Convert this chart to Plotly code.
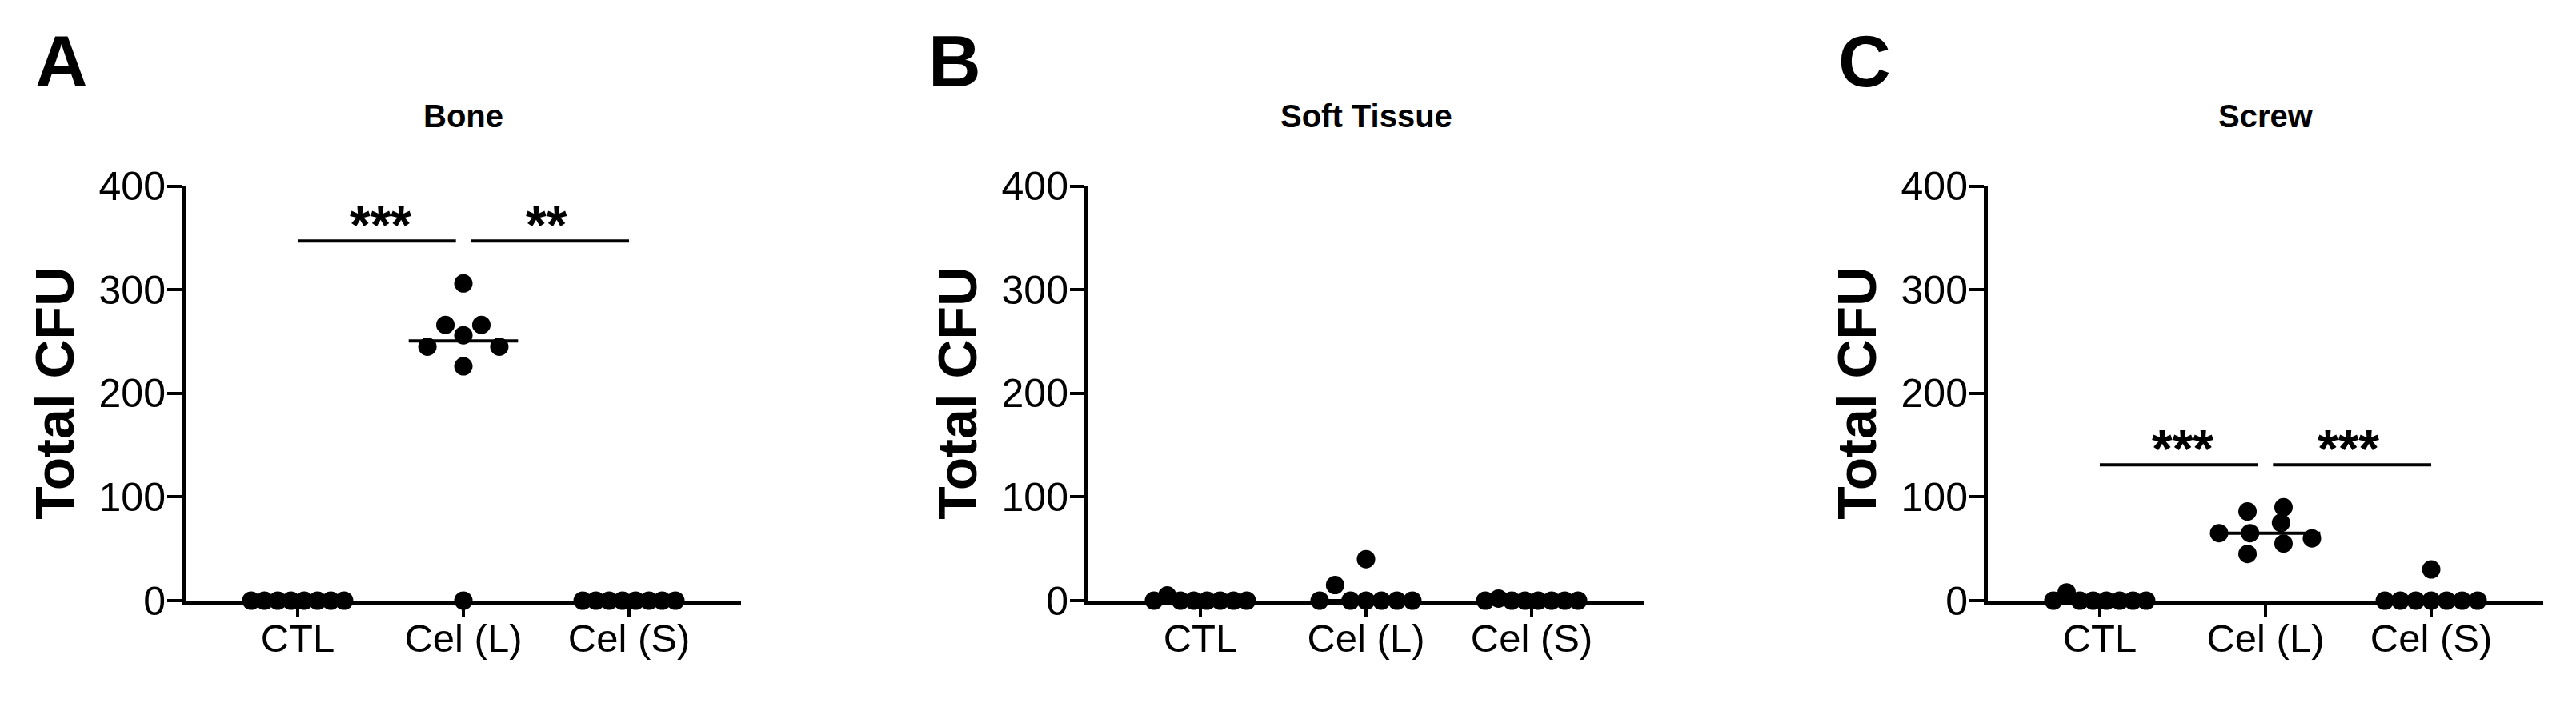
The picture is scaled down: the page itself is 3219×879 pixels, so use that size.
import statistics

import plotly.graph_objects as go

CATEGORIES = ["CTL", "Cel (L)", "Cel (S)"]
PANEL_TITLES = ["Bone", "Soft Tissue", "Screw"]
PANEL_LETTERS = ["A", "B", "C"]
Y_TICKS = [0, 100, 200, 300, 400]

BONE_CTL = [0, 0, 0, 0, 0, 0, 0, 0]
BONE_CEL_L = [306, 266, 245, 256, 245, 266, 226, 0]
BONE_CEL_S = [0, 0, 0, 0, 0, 0, 0, 0]

SOFT_CTL = [0, 5, 0, 0, 0, 0, 0, 0]
SOFT_CEL_L = [0, 15, 0, 40, 0, 0, 0, 0]
SOFT_CEL_S = [0, 2, 0, 0, 0, 0, 0, 0]

SCREW_CTL = [0, 8, 0, 0, 0, 0, 0, 0]
SCREW_CEL_L = [86, 65, 45, 65, 75, 55, 90, 60]
SCREW_CEL_S = [0, 0, 0, 30, 0, 0, 0, 0]

# (group a, group b, label) and the CFU level of the bar
BONE_SIG = [(0, 1, "***"), (1, 2, "**")]
BONE_SIG_LEVEL = 347
SCREW_SIG = [(0, 1, "***"), (1, 2, "***")]
SCREW_SIG_LEVEL = 131

PANELS = [
    [BONE_CTL, BONE_CEL_L, BONE_CEL_S],
    [SOFT_CTL, SOFT_CEL_L, SOFT_CEL_S],
    [SCREW_CTL, SCREW_CEL_L, SCREW_CEL_S],
]
SIGNIFICANCE = [(BONE_SIG, BONE_SIG_LEVEL), ([], 0), (SCREW_SIG, SCREW_SIG_LEVEL)]

# the html page keeps the browser's 8px body margin, so the figure is
# made 8px smaller and every page position is taken relative to it
PAGE_W, PAGE_H, BODY = 3219, 879, 8
W, H = PAGE_W - BODY, PAGE_H - BODY
FONT = "Arial, Liberation Sans, sans-serif"
AXIS_LEFT = [232, 1360, 2484]
LETTER_LEFT = [42, 1158, 2295]
AXIS_LEN = 694
Y_BOTTOM, Y_TOP = 751, 232.5
X_RANGE = [-0.676, 2.676]


def px(x):
    return (x - BODY) / W


def py(y):
    return 1 - (y - BODY) / H


def spread(values, bin_size=20, step=0.217, max_width=0.56):
    # prism-like layout: points in the same value bin sit side by side
    rows = {}
    for i, v in enumerate(values):
        rows.setdefault(int(v // bin_size), []).append(i)
    offsets = [0.0] * len(values)
    for idx in rows.values():
        n = len(idx)
        if n < 2:
            continue
        gap = min(step, max_width / (n - 1))
        for k, i in enumerate(idx):
            offsets[i] = (k - (n - 1) / 2) * gap
    return offsets


fig = go.Figure()
layout = dict(
    width=W,
    height=H,
    autosize=False,
    margin=dict(l=0, r=0, t=0, b=0, pad=0, autoexpand=False),
    plot_bgcolor="white",
    paper_bgcolor="white",
    showlegend=False,
    font=dict(family=FONT, color="black"),
)
shapes = []
annotations = []

for p, groups in enumerate(PANELS):
    suffix = "" if p == 0 else str(p + 1)
    xref, yref = "x" + suffix, "y" + suffix
    left = AXIS_LEFT[p]

    layout["xaxis" + suffix] = dict(
        domain=[px(left), px(left + AXIS_LEN)],
        range=X_RANGE,
        anchor=yref,
        automargin=False,
        showline=True,
        linewidth=5,
        linecolor="black",
        ticks="outside",
        ticklen=16,
        tickwidth=4,
        tickcolor="black",
        tickvals=[0, 1, 2],
        ticktext=CATEGORIES,
        ticklabelstandoff=-16,
        tickfont=dict(size=49, family=FONT, color="black"),
        showgrid=False,
        zeroline=False,
    )
    layout["yaxis" + suffix] = dict(
        domain=[py(Y_BOTTOM), py(Y_TOP)],
        range=[0, 400],
        anchor=xref,
        automargin=False,
        showline=True,
        linewidth=5,
        linecolor="black",
        ticks="outside",
        ticklen=18,
        tickwidth=4,
        tickcolor="black",
        tickvals=Y_TICKS,
        ticklabelstandoff=-8,
        tickfont=dict(size=50, family=FONT, color="black"),
        showgrid=False,
        zeroline=False,
        title=dict(
            text="Total CFU",
            font=dict(size=68, family=FONT, color="black", weight="bold"),
            standoff=10,
        ),
    )

    for g, values in enumerate(groups):
        offs = spread(values)
        fig.add_trace(
            go.Scatter(
                x=[g + o for o in offs],
                y=values,
                mode="markers",
                marker=dict(size=23, color="black"),
                cliponaxis=False,
                xaxis=xref,
                yaxis=yref,
                hoverinfo="y",
            )
        )
        med = statistics.median(values)
        shapes.append(
            dict(
                type="line", xref=xref, yref=yref,
                x0=g - 0.33, x1=g + 0.33, y0=med, y1=med,
                line=dict(color="black", width=4),
            )
        )

    sig, level = SIGNIFICANCE[p]
    for a, b, label in sig:
        x0 = a + (0.045 if a == 1 else 0)
        x1 = b - (0.045 if b == 1 else 0)
        shapes.append(
            dict(
                type="line", xref=xref, yref=yref,
                x0=x0, x1=x1, y0=level, y1=level,
                line=dict(color="black", width=4),
            )
        )
        annotations.append(
            dict(
                x=(a + b) / 2, y=level, xref=xref, yref=yref,
                text=label, showarrow=False,
                xanchor="center", yanchor="middle", yshift=20,
                font=dict(size=66, family=FONT, color="black", weight="bold"),
            )
        )

    annotations.append(
        dict(
            x=px(left + AXIS_LEN / 2), y=py(145), xref="paper", yref="paper",
            text=PANEL_TITLES[p], showarrow=False,
            xanchor="center", yanchor="middle",
            font=dict(size=40, family=FONT, color="black", weight="bold"),
        )
    )
    annotations.append(
        dict(
            x=px(LETTER_LEFT[p]), y=py(76), xref="paper", yref="paper",
            text=PANEL_LETTERS[p], showarrow=False,
            xanchor="left", yanchor="middle",
            font=dict(size=91, family=FONT, color="black", weight="bold"),
        )
    )

layout["shapes"] = shapes
layout["annotations"] = annotations
fig.update_layout(**layout)
fig.write_html("out.html")
